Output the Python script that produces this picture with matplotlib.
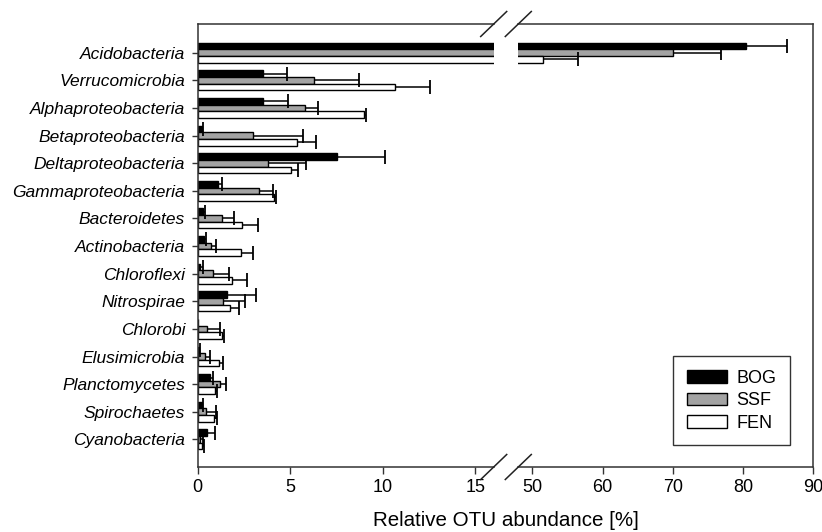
import matplotlib.pyplot as plt
import numpy as np

# relative OTU abundance (%) per phylum / class, with upper error
taxa = ["Acidobacteria", "Verrucomicrobia", "Alphaproteobacteria",
        "Betaproteobacteria", "Deltaproteobacteria", "Gammaproteobacteria",
        "Bacteroidetes", "Actinobacteria", "Chloroflexi", "Nitrospirae",
        "Chlorobi", "Elusimicrobia", "Planctomycetes", "Spirochaetes",
        "Cyanobacteria"]

bog = [80.35, 3.55, 3.55, 0.22, 7.55, 1.12, 0.27, 0.34, 0.12, 1.61,
       0.0, 0.07, 0.67, 0.22, 0.49]
bog_err = [5.9, 1.3, 1.35, 0.05, 2.6, 0.2, 0.13, 0.11, 0.15, 1.53,
           0.0, 0.05, 0.14, 0.09, 0.46]

ssf = [70.06, 6.28, 5.81, 2.98, 3.81, 3.34, 1.33, 0.70, 0.81, 1.39,
       0.49, 0.40, 1.21, 0.45, 0.12]
ssf_err = [6.8, 2.42, 0.67, 2.71, 2.06, 0.72, 0.65, 0.29, 0.89, 1.17,
           0.72, 0.27, 0.32, 0.52, 0.15]

fen = [51.48, 10.69, 8.97, 5.36, 5.07, 4.12, 2.42, 2.33, 1.84, 1.75,
       1.32, 1.15, 0.95, 0.88, 0.22]
fen_err = [5.0, 1.89, 0.13, 1.05, 0.33, 0.09, 0.85, 0.68, 0.81, 0.47,
           0.12, 0.24, 0.11, 0.15, 0.12]

series = [("BOG", bog, bog_err, "black"),
          ("SSF", ssf, ssf_err, "#a3a3a3"),
          ("FEN", fen, fen_err, "white")]

plt.rcParams["font.family"] = ["Liberation Sans", "DejaVu Sans"]

W, H = 822, 532
fig = plt.figure(figsize=(W / 100, H / 100), dpi=100)

def px_axes(x0, x1, y0, y1):
    return fig.add_axes([x0 / W, 1 - y1 / H, (x1 - x0) / W, (y1 - y0) / H])

ax1 = px_axes(197.7, 493.7, 24, 467)
ax2 = px_axes(518.3, 813.3, 24, 467)

y = np.arange(len(taxa))
h = 0.24
offsets = [-h, 0, h]

for ax in (ax1, ax2):
    for (name, vals, errs, col), off in zip(series, offsets):
        vals = np.array(vals)
        errs = np.array(errs)
        ax.barh(y + off, vals, height=h, color=col, edgecolor="black",
                linewidth=1.0, label=name, zorder=2)
        has = errs > 0
        ax.hlines(y[has] + off, vals[has], vals[has] + errs[has],
                  color="black", linewidth=1.1, zorder=3)
        ax.plot(vals[has] + errs[has], y[has] + off, linestyle="none",
                marker="|", markersize=9.5, markeredgewidth=1.3,
                color="black", zorder=3)
    ax.set_ylim(len(taxa), -1.04)
    for s in ax.spines.values():
        s.set_linewidth(1.1)
        s.set_color("#333333")
    ax.tick_params(axis="x", direction="out", length=5, width=1,
                   labelsize=13, pad=4, color="#333333")

ax1.set_xlim(0, 16)
ax1.set_xticks([0, 5, 10, 15])
ax1.spines["right"].set_visible(False)
ax1.set_yticks(y)
ax1.set_yticklabels(taxa, fontsize=12.5, style="italic")
ax1.tick_params(axis="y", direction="out", length=4, width=1, pad=5,
                color="#333333")

ax2.set_xlim(48, 90)
ax2.set_xticks([50, 60, 70, 80, 90])
ax2.spines["left"].set_visible(False)
ax2.set_yticks([])

# break marks across the top and bottom frame
for xe in (493.7, 518.3):
    for ye in (24, 467):
        fig.add_artist(plt.Line2D([(xe - 13) / W, (xe + 13) / W],
                                  [1 - (ye + 12.5) / H, 1 - (ye - 12.5) / H],
                                  color="#222222", linewidth=1.1))

leg = ax2.legend(loc="lower right", bbox_to_anchor=(790 / W, 1 - 445.3 / H),
                 bbox_transform=fig.transFigure, fontsize=13,
                 handlelength=2.2, handleheight=0.7, labelspacing=0.3,
                 handletextpad=0.55, borderpad=0.75, borderaxespad=0,
                 fancybox=False, edgecolor="#333333", framealpha=1)
leg.get_frame().set_linewidth(1.0)

fig.text(506 / W, 1 - 520 / H, "Relative OTU abundance [%]", fontsize=14.8,
         ha="center", va="center")

fig.savefig("out.png", dpi=100)
